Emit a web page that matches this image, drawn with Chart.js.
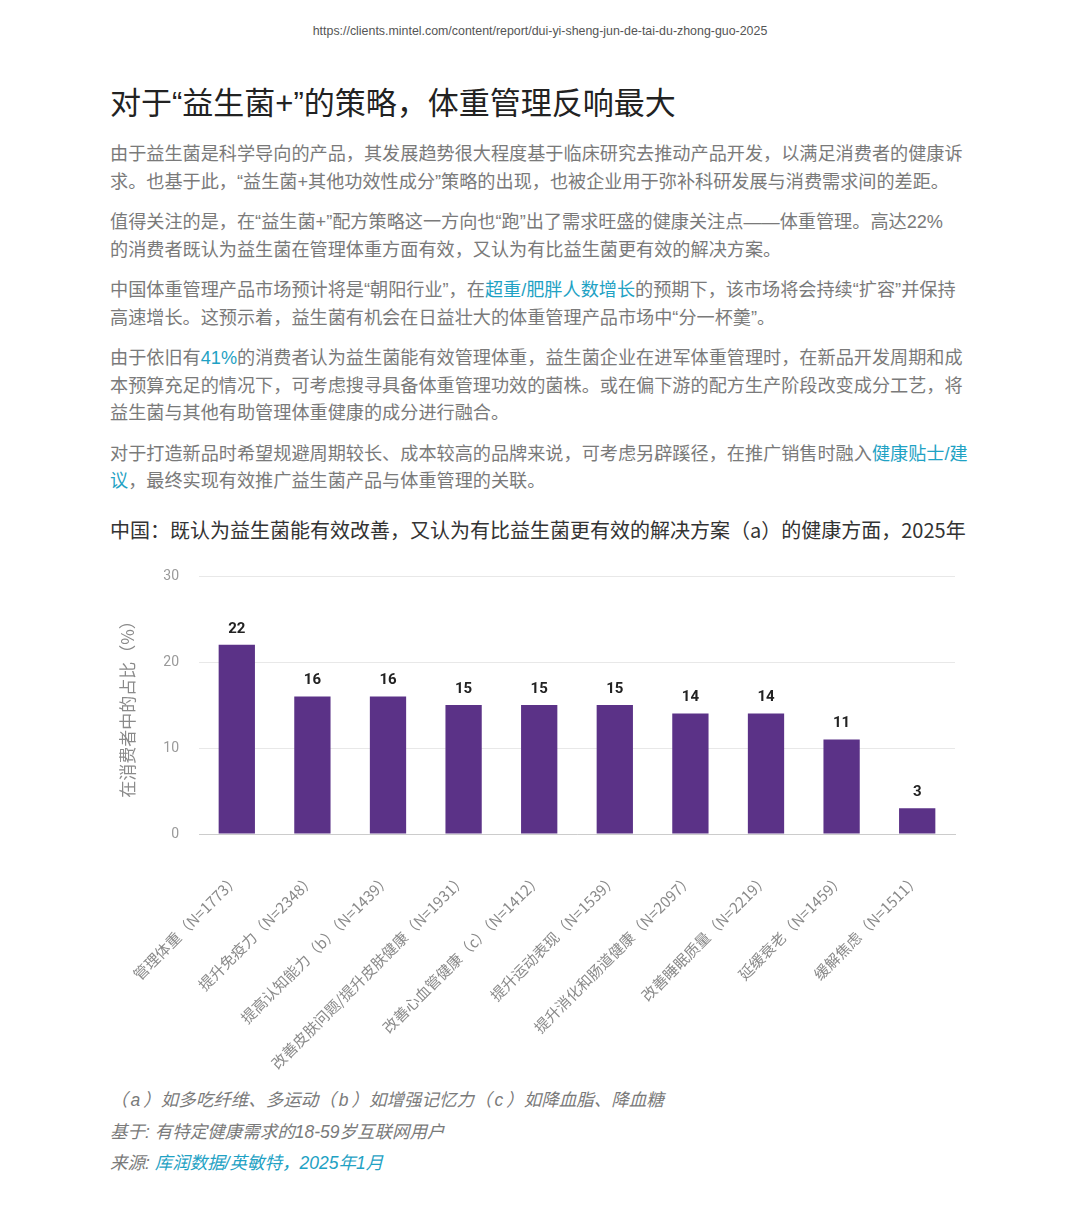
<!DOCTYPE html>
<html lang="zh-CN">
<head>
<meta charset="utf-8">
<title>对于“益生菌+”的策略，体重管理反响最大</title>
<script src="https://cdn.jsdelivr.net/npm/chart.js@4.4.1/dist/chart.umd.min.js"></script>
<style>
    html, body {
        margin: 0;
        padding: 0;
        background: #ffffff;
    }
    body {
        width: 1080px;
        height: 1218px;
        position: relative;
        overflow: hidden;
        font-family: "Liberation Sans", "Noto Sans CJK SC", sans-serif;
    }
    .url {
        position: absolute;
        top: 24px;
        left: 0;
        width: 1080px;
        text-align: center;
        font-size: 12.4px;
        color: #555555;
    }
    h1 {
        position: absolute;
        top: 83px;
        left: 110px;
        margin: 0;
        font-size: 31px;
        line-height: 42px;
        font-weight: normal;
        color: #222222;
        white-space: nowrap;
    }
    .body-text {
        position: absolute;
        top: 141px;
        left: 110px;
        width: 880px;
        font-size: 18.15px;
        line-height: 27.5px;
        color: #7a7a7a;
    }
    .body-text p {
        margin: 0 0 13px 0;
        white-space: nowrap;
    }
    .link {
        color: #1fa2c4;
    }
    .chart-title {
        position: absolute;
        top: 518px;
        left: 110px;
        font-family: "Noto Sans CJK SC", sans-serif;
        font-size: 20px;
        line-height: 24px;
        color: #333333;
        white-space: nowrap;
    }
    #chart {
        position: absolute;
        top: 560px;
        left: 110px;
    }
    .notes {
        position: absolute;
        top: 1085px;
        left: 110px;
        font-size: 17.5px;
        line-height: 31.5px;
        color: #7a7a7a;
        font-style: italic;
        white-space: nowrap;
    }
    .notes .pl {
        margin: 0 3px;
    }
</style>
</head>
<body>
<div class="url">https://clients.mintel.com/content/report/dui-yi-sheng-jun-de-tai-du-zhong-guo-2025</div>

<h1>对于“益生菌+”的策略，体重管理反响最大</h1>

<div class="body-text">
    <p>由于益生菌是科学导向的产品，其发展趋势很大程度基于临床研究去推动产品开发，以满足消费者的健康诉<br>求。也基于此，“益生菌+其他功效性成分”策略的出现，也被企业用于弥补科研发展与消费需求间的差距。</p>
    <p>值得关注的是，在“益生菌+”配方策略这一方向也“跑”出了需求旺盛的健康关注点——体重管理。高达22%<br>的消费者既认为益生菌在管理体重方面有效，又认为有比益生菌更有效的解决方案。</p>
    <p>中国体重管理产品市场预计将是“朝阳行业”，在<span class="link">超重/肥胖人数增长</span>的预期下，该市场将会持续“扩容”并保持<br>高速增长。这预示着，益生菌有机会在日益壮大的体重管理产品市场中“分一杯羹”。</p>
    <p>由于依旧有<span class="link">41%</span>的消费者认为益生菌能有效管理体重，益生菌企业在进军体重管理时，在新品开发周期和成<br>本预算充足的情况下，可考虑搜寻具备体重管理功效的菌株。或在偏下游的配方生产阶段改变成分工艺，将<br>益生菌与其他有助管理体重健康的成分进行融合。</p>
    <p>对于打造新品时希望规避周期较长、成本较高的品牌来说，可考虑另辟蹊径，在推广销售时融入<span class="link">健康贴士/建<br>议</span>，最终实现有效推广益生菌产品与体重管理的关联。</p>
</div>

<div class="chart-title">中国：既认为益生菌能有效改善，又认为有比益生菌更有效的解决方案（a）的健康方面，2025年</div>

<canvas id="chart" width="860" height="520"></canvas>

<div class="notes">
    （<span class="pl">a</span>）如多吃纤维、多运动（<span class="pl">b</span>）如增强记忆力（<span class="pl">c</span>）如降血脂、降血糖<br>
    基于: 有特定健康需求的18-59岁互联网用户<br>
    来源: <span class="link">库润数据/英敏特，2025年1月</span>
</div>

<script>
// 健康方面（类别）
const categories = [
    '管理体重（N=1773）',
    '提升免疫力（N=2348）',
    '提高认知能力（b）（N=1439）',
    '改善皮肤问题/提升皮肤健康（N=1931）',
    '改善心血管健康（c）（N=1412）',
    '提升运动表现（N=1539）',
    '提升消化和肠道健康（N=2097）',
    '改善睡眠质量（N=2219）',
    '延缓衰老（N=1459）',
    '缓解焦虑（N=1511）'
];

// 在消费者中的占比（%）
const shares = [22, 16, 16, 15, 15, 15, 14, 14, 11, 3];

// Y 轴刻度
const yTicks = [0, 10, 20, 30];

// 在柱子上方写数值
const barValueLabels = {
    id: 'barValueLabels',
    afterDatasetsDraw(chart) {
        const ctx = chart.ctx;
        const meta = chart.getDatasetMeta(0);
        ctx.save();
        ctx.font = 'bold 15px Roboto, "DejaVu Sans", sans-serif';
        ctx.fillStyle = '#222222';
        ctx.textAlign = 'center';
        ctx.textBaseline = 'middle';
        meta.data.forEach(function(bar, i) {
            ctx.fillText(String(shares[i]), bar.x, bar.y - 16);
        });
        ctx.restore();
    }
};

document.addEventListener('DOMContentLoaded', function() {
    const ctx = document.getElementById('chart').getContext('2d');

    new Chart(ctx, {
        type: 'bar',
        data: {
            labels: categories,
            datasets: [{
                data: shares,
                backgroundColor: '#5b3287',
                barPercentage: 0.48,
                categoryPercentage: 1.0
            }]
        },
        options: {
            responsive: false,
            animation: false,
            devicePixelRatio: 1,
            layout: {
                padding: { top: 16, right: 15, left: 0, bottom: 0 }
            },
            plugins: {
                legend: { display: false },
                tooltip: { enabled: false }
            },
            scales: {
                x: {
                    grid: { display: false },
                    border: { color: '#cccccc' },
                    ticks: {
                        autoSkip: false,
                        minRotation: 45,
                        maxRotation: 45,
                        padding: 28,
                        color: '#8a8a8a',
                        font: { size: 15, family: '"Noto Sans CJK SC", sans-serif' }
                    },
                    afterFit: function(scale) {
                        // 固定 X 轴高度，不让倾斜标签挤占左右空间
                        scale.height = 246;
                        scale.paddingLeft = 0;
                        scale.paddingRight = 0;
                        scale.paddingTop = 0;
                        scale.paddingBottom = 0;
                    }
                },
                y: {
                    min: 0,
                    max: 30,
                    afterBuildTicks: function(scale) {
                        scale.ticks = yTicks.map(function(v) { return { value: v }; });
                    },
                    grid: {
                        color: '#e8e8e8',
                        drawTicks: false
                    },
                    border: { display: false },
                    ticks: {
                        padding: 20,
                        color: '#9a9a9a',
                        font: { size: 14, family: 'Roboto, sans-serif' }
                    },
                    title: {
                        display: true,
                        text: '在消费者中的占比（%）',
                        color: '#8a8a8a',
                        padding: { top: 7, bottom: 7 },
                        font: { size: 17, family: '"Noto Sans CJK SC", sans-serif' }
                    },
                    afterFit: function(scale) {
                        scale.width = 89;
                        scale.paddingTop = 0;
                        scale.paddingBottom = 0;
                    }
                }
            }
        },
        plugins: [barValueLabels]
    });
});
</script>
</body>
</html>
